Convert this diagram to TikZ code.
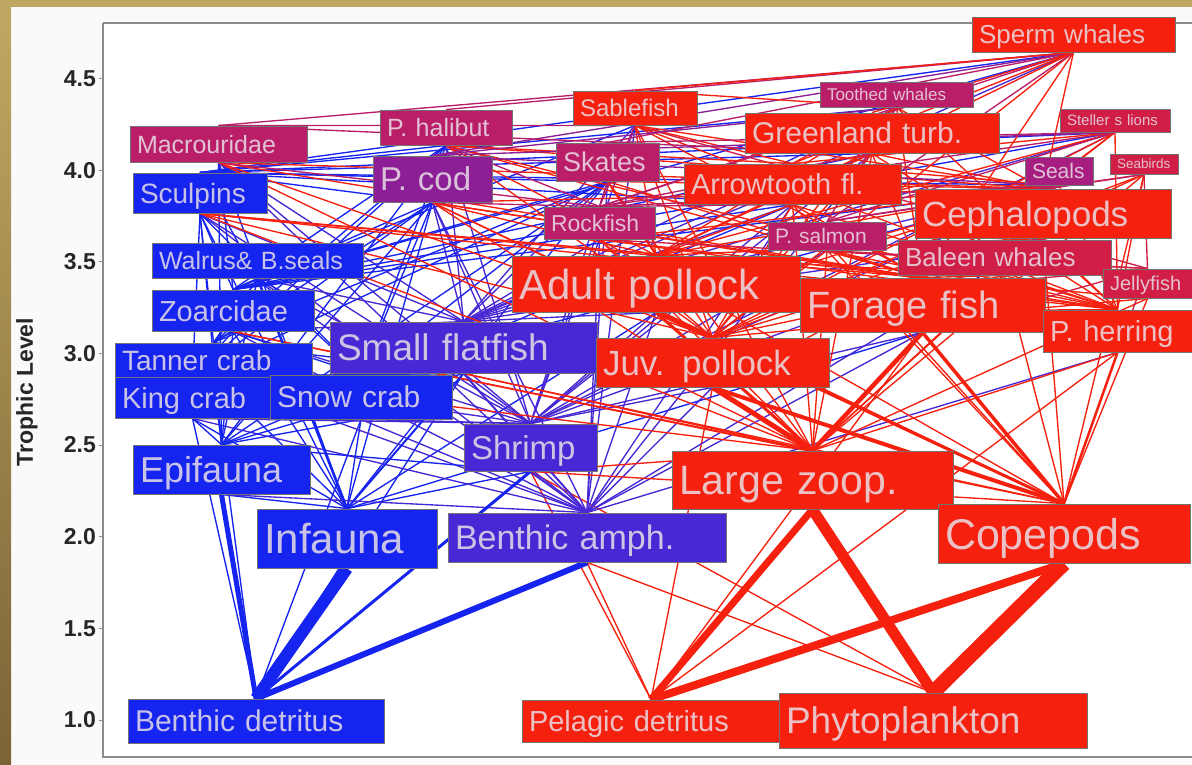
\documentclass[tikz,border=0pt]{standalone}
\usepackage{fontspec}
\setmainfont{Liberation Sans}
\definecolor{cred}{RGB}{246,32,14}
\definecolor{ccrim}{RGB}{208,30,70}
\definecolor{cmag}{RGB}{186,30,104}
\definecolor{cseal}{RGB}{168,30,128}
\definecolor{cpur}{RGB}{140,30,150}
\definecolor{cbpur}{RGB}{72,40,212}
\definecolor{cblue}{RGB}{22,36,240}
\definecolor{gold}{RGB}{193,168,98}
\definecolor{goldd}{RGB}{122,100,54}
\definecolor{labtext}{RGB}{232,222,230}
\pgfdeclarelayer{bg}
\pgfdeclarelayer{links}
\pgfsetlayers{bg,links,main}
\begin{document}
\begin{tikzpicture}[x=1pt, y=-1pt,
  box/.style={rectangle, draw=black!55, line width=0.9pt, text=labtext, text opacity=0.85, inner xsep=7pt, inner ysep=0pt, text depth=0pt, align=left},
  tl/.style n args={3}{text width=#1pt, minimum height=#2pt, font={\fontsize{#3}{#3}\selectfont}},
  link/.style={line width=1.35pt},
  axis/.style={black!45, line width=1.5pt},
  tick/.style={font={\fontsize{23}{23}\selectfont\bfseries}, text=black!85, anchor=east, inner sep=2pt}]
  \useasboundingbox (0,0) rectangle (1192,765);
  \begin{pgfonlayer}{bg}
    \fill[black!2] (0,0) rectangle (1192,765);
    \fill[white] (103,23) rectangle (1192,757);
    \fill[gold] (0,0) rectangle (1192,7);
    \shade[top color=gold, bottom color=goldd] (0,0) rectangle (11,765);
  \end{pgfonlayer}
  \draw[axis] (103,23) -- (1192,23);
  \draw[axis] (103,23) -- (103,757) -- (1192,757);
  \foreach \v/\lab [count=\i] in {1/1.0,1.5/1.5,2/2.0,2.5/2.5,3/3.0,3.5/3.5,4/4.0,4.5/4.5} {
    \draw[axis, line width=1pt] (99,{720-(\v-1)*183.3}) -- (103,{720-(\v-1)*183.3});
    \node[tick] (tk\i) at (98,{720-(\v-1)*183.3}) {\lab};
  }
  \node[rotate=90, font={\fontsize{23}{23}\selectfont\bfseries}, text=black!85] (ylab) at (27,392) {Trophic Level};

  \node[box, tl={189}{35}{26}, fill=cred] (sperm) at (1073.5,34.5) {Sperm whales};
  \node[box, tl={139}{25}{17}, fill=cmag] (toothed) at (896.5,94.5) {Toothed whales};
  \node[box, tl={96}{23}{15}, fill=ccrim] (steller) at (1115,120.5) {Steller s lions};
  \node[box, tl={54}{20}{13.5}, fill=ccrim] (seabirds) at (1144,164) {Seabirds};
  \node[box, tl={54}{28}{21}, fill=cseal] (seals) at (1059,171) {Seals};
  \node[box, tl={240}{40}{30}, fill=cred] (greenland) at (872,133) {Greenland turb.};
  \node[box, tl={110}{34}{24}, fill=cred] (sablefish) at (635,108) {Sablefish};
  \node[box, tl={118}{35}{25}, fill=cmag] (halibut) at (446,127.5) {P. halibut};
  \node[box, tl={163}{36}{25}, fill=cmag] (macro) at (218.5,144) {Macrouridae};
  \node[box, tl={120}{40}{28}, fill=cblue] (sculpins) at (200,193) {Sculpins};
  \node[box, tl={105}{46}{33}, fill=cpur] (pcod) at (432.5,179) {P. cod};
  \node[box, tl={89}{38}{27}, fill=cmag] (skates) at (607.5,162) {Skates};
  \node[box, tl={203}{40}{29}, fill=cred] (arrow) at (792.5,184) {Arrowtooth fl.};
  \node[box, tl={97}{32}{23}, fill=cmag] (rock) at (599.5,223) {Rockfish};
  \node[box, tl={104}{28}{21}, fill=cmag] (psalmon) at (827,236) {P. salmon};
  \node[box, tl={242}{49}{35}, fill=cred] (ceph) at (1043,213.5) {Cephalopods};
  \node[box, tl={199}{35}{26}, fill=ccrim] (baleen) at (1004.5,257.5) {Baleen whales};
  \node[box, tl={75}{29}{20}, fill=ccrim] (jelly) at (1147.5,283.5) {Jellyfish};
  \node[box, tl={197}{35}{25}, fill=cblue] (walrus) at (257.5,260.5) {Walrus\& B.seals};
  \node[box, tl={274}{56}{42}, fill=cred] (adultp) at (656,284) {Adult pollock};
  \node[box, tl={231}{54}{38}, fill=cred] (forage) at (922.5,305) {Forage fish};
  \node[box, tl={135}{42}{29}, fill=cred] (herring) at (1117.5,331) {P. herring};
  \node[box, tl={148}{41}{29}, fill=cblue] (zoarc) at (233,310.5) {Zoarcidae};
  \node[box, tl={253}{51}{37}, fill=cbpur] (smallff) at (463.5,347.5) {Small flatfish};
  \node[box, tl={219}{49}{35}, fill=cred] (juvp) at (712.5,362.5) {Juv. pollock};
  \node[box, tl={183}{34}{28}, fill=cblue] (tanner) at (213.5,360) {Tanner crab};
  \node[box, tl={141}{41}{29}, fill=cblue] (king) at (192.5,397.5) {King crab};
  \node[box, tl={168}{44}{30}, fill=cblue] (snow) at (361,397) {Snow crab};
  \node[box, tl={119}{47}{33}, fill=cbpur] (shrimp) at (530.5,447.5) {Shrimp};
  \node[box, tl={163}{49}{36}, fill=cblue] (epi) at (221.5,469.5) {Epifauna};
  \node[box, tl={267}{58}{41}, fill=cred] (largez) at (812.5,480) {Large zoop.};
  \node[box, tl={166}{59}{42}, fill=cblue] (infauna) at (347,538.5) {Infauna};
  \node[box, tl={264}{49}{34}, fill=cbpur] (bamph) at (587,537.5) {Benthic amph.};
  \node[box, tl={238}{59}{43}, fill=cred] (cope) at (1064,533.5) {Copepods};
  \node[box, tl={242}{44}{30}, fill=cblue] (bdet) at (256,721) {Benthic detritus};
  \node[box, tl={244}{42}{29}, fill=cred] (pdet) at (651,721) {Pelagic detritus};
  \node[box, tl={294}{55}{37}, fill=cred] (phyto) at (933,720.5) {Phytoplankton};

  \begin{pgfonlayer}{links}
    % prey (north) to predator (south)
    \foreach \q in {smallff,tanner,king,snow} \draw[link,cblue] (bdet.north) -- (\q.south);
    \foreach \q in {shrimp,bamph} \draw[link,cred] (phyto.north) -- (\q.south);
    \foreach \q in {forage,herring,juvp,shrimp,bamph} \draw[link,cred] (pdet.north) -- (\q.south);
    \foreach \q in {macro,sculpins,pcod,skates,adultp,forage,zoarc,tanner,king,snow,shrimp,epi} \draw[link,cblue] (infauna.north) -- (\q.south);
    \foreach \q in {greenland,sablefish,macro,sculpins,pcod,skates,arrow,rock,ceph,walrus,adultp,forage,herring,zoarc,juvp,tanner,king,snow,shrimp,epi} \draw[link,cbpur] (bamph.north) -- (\q.south);
    \foreach \q in {halibut,macro,sculpins,pcod,skates,arrow,walrus,zoarc,smallff,tanner,king,snow,shrimp} \draw[link,cblue] (epi.north) -- (\q.south);
    \foreach \q in {steller,seals,greenland,sablefish,halibut,macro,sculpins,pcod,skates,arrow,rock,psalmon,ceph,walrus,adultp,forage,zoarc,smallff,juvp,tanner,king,snow} \draw[link,cbpur] (shrimp.north) -- (\q.south);
    \foreach \q in {seals,halibut,sculpins,pcod,skates,walrus,zoarc,smallff,tanner,king} \draw[link,cblue] (snow.north) -- (\q.south);
    \foreach \q in {halibut,sculpins,pcod,skates,walrus,zoarc,smallff} \draw[link,cblue] (king.north) -- (\q.south);
    \foreach \q in {halibut,sculpins,pcod,skates,walrus,zoarc,smallff,snow} \draw[link,cblue] (tanner.north) -- (\q.south);
    \foreach \q in {sperm,toothed,steller,seals,greenland,sablefish,halibut,macro,sculpins,pcod,skates,arrow,rock,ceph,walrus,adultp,zoarc} \draw[link,cbpur] (smallff.north) -- (\q.south);
    \foreach \q in {sperm,steller,seals,greenland,sablefish,halibut,macro,sculpins,pcod,skates,arrow,walrus} \draw[link,cblue] (zoarc.north) -- (\q.south);
    \foreach \q in {sperm,toothed,steller,seals,greenland,halibut,pcod,skates,arrow,walrus} \draw[link,cblue] (sculpins.north) -- (\q.south);
    \foreach \q in {seabirds,pcod,arrow,rock,psalmon,ceph,baleen,jelly,zoarc,smallff,shrimp} \draw[link,cred] (cope.north) -- (\q.south);
    \foreach \q in {seabirds,greenland,sablefish,macro,sculpins,pcod,skates,arrow,rock,psalmon,ceph,baleen,jelly,herring,zoarc,smallff,tanner,shrimp} \draw[link,cred] (largez.north) -- (\q.south);
    \foreach \q in {sperm,toothed,steller,seabirds,seals,greenland,sablefish,halibut,macro,sculpins,pcod,skates,arrow,rock,psalmon,ceph,baleen,jelly,smallff} \draw[link,cred] (juvp.north) -- (\q.south);
    \foreach \q in {toothed,steller,seabirds,seals,greenland,sablefish,halibut,sculpins,pcod,arrow,rock,psalmon,ceph,baleen,adultp,forage} \draw[link,cred] (herring.north) -- (\q.south);
    \foreach \q in {sperm,toothed,steller,seabirds,seals,greenland,sablefish,halibut,macro,sculpins,pcod,skates,arrow,rock,psalmon,ceph,baleen,jelly,adultp,juvp} \draw[link,cred] (forage.north) -- (\q.south);
    \foreach \q in {sperm,toothed,steller,seals,greenland,sablefish,halibut,sculpins,pcod,skates,arrow,ceph,baleen} \draw[link,cred] (adultp.north) -- (\q.south);
    \foreach \q in {seabirds,sablefish,rock,psalmon,adultp,forage,herring} \draw[link,ccrim] (jelly.north) -- (\q.south);
    \foreach \q in {sperm,toothed,steller,seabirds,seals,greenland,sablefish,halibut,macro,pcod,skates,arrow,rock,psalmon,baleen,adultp} \draw[link,cred] (ceph.north) -- (\q.south);
    \foreach \q in {sperm,toothed,steller,seabirds,seals} \draw[link,cmag] (psalmon.north) -- (\q.south);
    \foreach \q in {sperm,toothed,steller,seals,greenland,sablefish,halibut,macro,pcod,skates,arrow} \draw[link,cmag] (rock.north) -- (\q.south);
    \foreach \q in {sperm,toothed,steller,seals,sablefish,halibut} \draw[link,cred] (arrow.north) -- (\q.south);
    \foreach \q in {sperm,steller} \draw[link,cmag] (skates.north) -- (\q.south);
    \foreach \q in {sperm,toothed,steller,seals} \draw[link,cpur] (pcod.north) -- (\q.south);
    \foreach \q in {sperm,greenland,sablefish} \draw[link,cmag] (macro.north) -- (\q.south);
    \draw[link,cmag] (halibut.north) -- (sperm.south);
    \foreach \q in {sperm,toothed} \draw[link,cred] (sablefish.north) -- (\q.south);
    \draw[link,cred] (greenland.north) -- (sperm.south);
    % heavy flows
    \draw[cblue, line width=12pt] (bdet.north) -- (infauna.south);
    \draw[cblue, line width=5pt] (bdet.north) -- (epi.south);
    \draw[cblue, line width=6pt] (bdet.north) -- (bamph.south);
    \draw[cblue, line width=3pt] (bdet.north) -- (shrimp.south);
    \draw[cred, line width=15pt] (phyto.north) -- (cope.south);
    \draw[cred, line width=11pt] (phyto.north) -- (largez.south);
    \draw[cred, line width=8pt] (pdet.north) -- (cope.south);
    \draw[cred, line width=7pt] (pdet.north) -- (largez.south);
    \draw[cred, line width=5pt] (largez.north) -- (juvp.south);
    \draw[cred, line width=4.5pt] (largez.north) -- (forage.south);
    \draw[cred, line width=3pt] (largez.north) -- (adultp.south);
    \draw[cred, line width=4pt] (cope.north) -- (juvp.south);
    \draw[cred, line width=3.5pt] (cope.north) -- (forage.south);
    \draw[cred, line width=3pt] (cope.north) -- (adultp.south);
    \draw[cred, line width=2.5pt] (cope.north) -- (herring.south);
    \draw[cred, line width=4pt] (juvp.north) -- (adultp.south);
    \draw[cblue, line width=2.5pt] (infauna.north) -- (walrus.south);
    \draw[cblue, line width=2pt] (infauna.north) -- (smallff.south);
    \draw[cbpur, line width=2pt] (bamph.north) -- (smallff.south);
  \end{pgfonlayer}
\end{tikzpicture}
\end{document}
